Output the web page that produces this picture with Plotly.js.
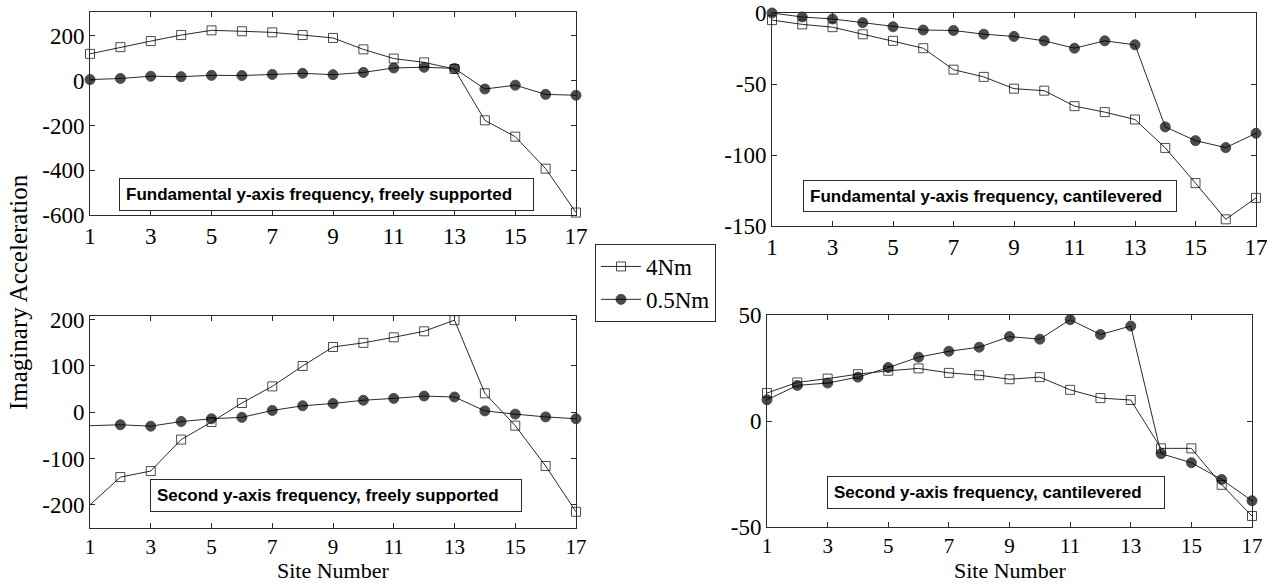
<!DOCTYPE html>
<html>
<head>
<meta charset="utf-8">
<script src="https://cdn.plot.ly/plotly-3.0.1.min.js"></script>
<style>html,body{margin:0;padding:0;background:#fff;}#chart{width:1278px;height:585px;}</style>
</head>
<body>
<div id="chart"></div>
<script>
// ---- data ----
const sites = [1,2,3,4,5,6,7,8,9,10,11,12,13,14,15,16,17];
const seriesNames = ['4Nm', '0.5Nm'];

// Fundamental y-axis frequency, freely supported
const fundFree4Nm  = [120,150,177,204,225,221,216,204,191,140,99,82,52,-177,-250,-393,-589];
const fundFree05Nm = [5,10,20,18,24,23,28,33,27,37,57,60,55,-37,-20,-61,-65];

// Fundamental y-axis frequency, cantilevered
const fundCant4Nm  = [-5,-8,-10,-15,-19.6,-24.8,-39.9,-45,-53.3,-54.7,-65.6,-69.8,-75,-95,-119.8,-145.3,-130.2];
const fundCant05Nm = [0,-2.8,-4.2,-6.8,-9.7,-12,-12.3,-14.9,-16.5,-19.6,-24.8,-19.6,-22.4,-80.2,-89.9,-94.8,-84.7];

// Second y-axis frequency, freely supported
const secFree4Nm  = [-200,-140,-127,-59,-21,20,56,100,141,150,162,175,199,41,-29,-116,-215];
const secFree05Nm = [-29,-27,-30,-20,-14,-11,4,14,19,26,30,35,33,3,-4,-10,-14];

// Second y-axis frequency, cantilevered
const secCant4Nm  = [13.2,18.2,20,22.1,23.7,24.8,22.7,21.6,19.7,20.7,14.7,10.8,9.9,-12.9,-12.9,-30.1,-44.8];
const secCant05Nm = [10,16.8,17.9,20.7,25.2,30.1,32.9,34.8,39.8,38.6,47.8,40.8,44.8,-15.4,-19.7,-27.6,-37.6];

const panelLabels = [
  'Fundamental y-axis frequency, freely supported',
  'Fundamental y-axis frequency, cantilevered',
  'Second y-axis frequency, freely supported',
  'Second y-axis frequency, cantilevered'
];
const xTickVals = [1,3,5,7,9,11,13,15,17];
const yTicks = [
  [-600,-400,-200,0,200],
  [-150,-100,-50,0],
  [-200,-100,0,100,200],
  [-50,0,50]
];
const yAxisTitle = 'Imaginary Acceleration';
const xAxisTitle = 'Site Number';

// ---- layout helpers ----
const W = 1278, H = 585;
const serif = 'Liberation Serif, Times New Roman, serif';
const sans = 'Liberation Sans, Arial, sans-serif';
const lineCol = '#2a2a2a';

const panels = [
  {a4: fundFree4Nm, a05: fundFree05Nm, x:[90,576], y:[12,215], range:[-600,307], box:[119,178,415,33]},
  {a4: fundCant4Nm, a05: fundCant05Nm, x:[772,1256], y:[13,226], range:[-150,0], box:[803,180,374,32]},
  {a4: secFree4Nm,  a05: secFree05Nm,  x:[90,576], y:[316,528], range:[-250,208], box:[150,479,372,33], hideFirst:true},
  {a4: secCant4Nm,  a05: secCant05Nm,  x:[767,1252], y:[315,527], range:[-50,50], box:[827,476,338,33]}
];

const traces = [];
const layout = {
  width: W, height: H,
  margin: {l:0, r:0, t:0, b:0},
  paper_bgcolor: '#fff', plot_bgcolor: '#fff',
  showlegend: true,
  legend: {
    x: 595/W, y: 1 - 244/H, xanchor: 'left', yanchor: 'top',
    bordercolor: lineCol, borderwidth: 1, bgcolor: '#fff',
    font: {family: serif, size: 23, color: '#000'},
    tracegroupgap: 0, itemwidth: 40
  },
  annotations: [],
  font: {family: serif, color: '#000'}
};

panels.forEach((p, i) => {
  const n = i + 1;
  const xa = 'x' + (n === 1 ? '' : n), ya = 'y' + (n === 1 ? '' : n);
  const sizes = sites.map((s, k) => (p.hideFirst && k === 0) ? 0 : 9);
  traces.push({
    x: sites, y: p.a4, xaxis: xa, yaxis: ya, type: 'scatter', mode: 'lines+markers',
    name: seriesNames[0], showlegend: i === 0, legendgroup: 'a', cliponaxis: false,
    line: {color: lineCol, width: 1},
    marker: {symbol: 'square-open', size: sizes, color: '#000', line: {width: 1, color: '#000'}}
  });
  traces.push({
    x: sites, y: p.a05, xaxis: xa, yaxis: ya, type: 'scatter', mode: 'lines+markers',
    name: seriesNames[1], showlegend: i === 0, legendgroup: 'b', cliponaxis: false,
    line: {color: lineCol, width: 1},
    marker: {symbol: 'circle', size: sizes.map(s => s ? 10 : 0), color: '#000', line: {width: 1, color: '#000'}}
  });
  const axCommon = {
    showline: true, linecolor: lineCol, linewidth: 1, mirror: 'ticks',
    ticks: 'inside', ticklen: 5, tickcolor: lineCol, showgrid: false, zeroline: false,
    tickfont: {family: serif, size: 23, color: '#000'}
  };
  layout['xaxis' + (n === 1 ? '' : n)] = Object.assign({}, axCommon, {
    domain: [p.x[0]/W, p.x[1]/W], anchor: ya, range: [1, 17],
    tickmode: 'array', tickvals: xTickVals, ticktext: xTickVals.map(String),
    tickfont: {family: serif, size: n >= 3 ? 21 : 23, color: '#000'},
    title: {text: ''}
  });
  layout['yaxis' + (n === 1 ? '' : n)] = Object.assign({}, axCommon, {
    domain: [1 - p.y[1]/H, 1 - p.y[0]/H], anchor: xa, range: p.range,
    tickmode: 'array', tickvals: yTicks[i], ticktext: yTicks[i].map(String)
  });
  const pad = 6;
  layout.annotations.push({
    xref: 'paper', yref: 'paper', x: p.box[0]/W, y: 1 - p.box[1]/H,
    xanchor: 'left', yanchor: 'top', align: 'left', valign: 'middle',
    text: '<b>' + panelLabels[i] + '</b>', showarrow: false,
    font: {family: sans, size: 17, color: '#000'},
    bgcolor: '#fff', bordercolor: lineCol, borderwidth: 1, borderpad: pad,
    width: p.box[2] - 2*pad - 2, height: p.box[3] - 2*pad - 2
  });
  if (n >= 3) {
    layout.annotations.push({
      xref: xa + ' domain', yref: 'paper', x: 0.5, y: 0,
      xanchor: 'center', yanchor: 'bottom', showarrow: false,
      text: xAxisTitle, font: {family: serif, size: 22, color: '#000'}
    });
  }
});

layout.annotations.push({
  xref: 'paper', yref: 'paper', x: 18/W, y: 1 - 292/H,
  xanchor: 'center', yanchor: 'middle', textangle: -90, showarrow: false,
  text: yAxisTitle, font: {family: serif, size: 25, color: '#000'}
});

Plotly.newPlot('chart', traces, layout, {displayModeBar: false, staticPlot: true});
</script>
</body>
</html>
